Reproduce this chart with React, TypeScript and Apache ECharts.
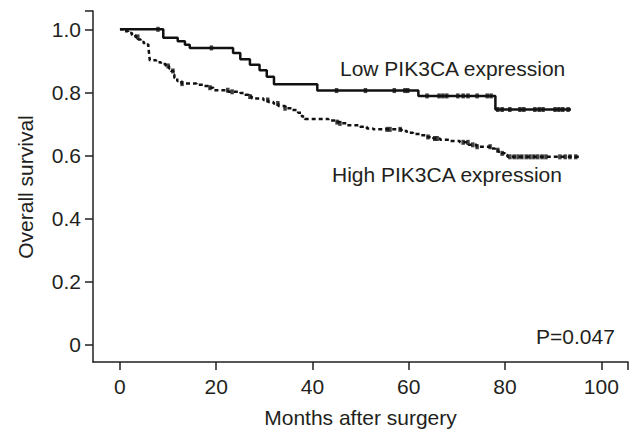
import React, { useEffect, useRef } from "react";
import * as echarts from "echarts";

// Low PIK3CA expression (solid) — Kaplan–Meier step points
const lowTimes = [0, 9, 12, 13.5, 14.5, 23.5, 25, 27, 29, 30.5, 32, 41, 62, 78];
const lowSurv = [1.0, 0.973, 0.962, 0.951, 0.941, 0.925, 0.905, 0.888, 0.87, 0.85, 0.826, 0.806, 0.789, 0.746];
const lowEnd = 93.7;
const lowCensor = [7.9, 19, 45, 51, 57, 59.2, 59.8, 63.8, 66.3, 67.1, 67.9, 70.2, 71.3, 72.3, 74.2, 76.3, 77.1, 78.5, 79.4, 81.0, 83.1, 83.9, 86.2, 87.1, 87.9, 90.4, 91.2, 92.0, 93.1];

// High PIK3CA expression (dashed)
const highTimes = [0, 0.8, 1.7, 2.5, 3.2, 3.8, 4.3, 5.0, 5.9, 6.0, 6.1, 6.2, 7.5, 8.5, 9.5, 10.2, 10.6, 11.1, 11.3, 11.9, 12.8, 15.9, 17.3, 18.7, 19.4, 22.5, 25.0, 26.0, 26.7, 27.4, 29.8, 30.8, 31.9, 32.9, 34.3, 35.7, 37.0, 37.8, 38.4, 43.3, 44.7, 45.7, 47.1, 49.9, 51.3, 52.6, 58.5, 59.6, 60.9, 62.3, 63.7, 65.1, 66.5, 68.6, 70.6, 72.4, 74.1, 77.2, 77.9, 78.6, 79.3, 80.0, 80.5];
const highSurv = [1.0, 0.994, 0.988, 0.982, 0.976, 0.968, 0.96, 0.952, 0.944, 0.93, 0.916, 0.902, 0.896, 0.89, 0.884, 0.876, 0.868, 0.857, 0.846, 0.836, 0.828, 0.824, 0.82, 0.815, 0.807, 0.802, 0.798, 0.793, 0.787, 0.781, 0.776, 0.77, 0.765, 0.757, 0.75, 0.744, 0.736, 0.724, 0.716, 0.711, 0.706, 0.702, 0.696, 0.691, 0.686, 0.683, 0.678, 0.672, 0.668, 0.664, 0.659, 0.654, 0.65, 0.646, 0.642, 0.634, 0.628, 0.622, 0.617, 0.612, 0.607, 0.602, 0.596];
const highEnd = 95.6;
const highCensor = [3.7, 10.0, 11.0, 12.9, 18.7, 22.4, 23.3, 27.0, 30.7, 32.8, 34.3, 45.1, 45.7, 55.5, 56.1, 58.2, 64.0, 65.4, 65.9, 71.3, 72.3, 73.3, 74.2, 76.9, 78.5, 79.4, 81.0, 81.9, 82.7, 83.5, 84.4, 85.2, 86.0, 86.8, 87.7, 88.5, 91.4, 92.5, 93.5, 94.7];

const xTicks = [0, 20, 40, 60, 80, 100];
const yTicks = [0, 0.2, 0.4, 0.6, 0.8, 1.0];

const xMin = -5.6;
const xMax = 105.55;
const yMin = -0.054;
const yMax = 1.058;

function stepData(times: number[], surv: number[], end: number) {
  const d = times.map((t, i) => [t, surv[i]]);
  d.push([end, surv[surv.length - 1]]);
  return d;
}

function survAt(times: number[], surv: number[], t: number) {
  let s = surv[0];
  for (let i = 0; i < times.length; i++) if (times[i] <= t) s = surv[i];
  return s;
}

export default function App() {
  const ref = useRef<HTMLDivElement>(null);
  useEffect(() => {
    const chart = echarts.init(ref.current!, null, { renderer: "svg" });
    const font = "'Liberation Sans', Arial, Helvetica, sans-serif";
    const ink = "#231f20";
    const fs = 21;
    chart.setOption({
      animation: false,
      backgroundColor: "#ffffff",
      grid: { left: 93, right: 1, top: 11, bottom: 67, containLabel: false },
      xAxis: {
        type: "value",
        min: xMin,
        max: xMax,
        splitLine: { show: false },
        axisLine: { show: true, onZero: false, lineStyle: { color: ink, width: 1.5 } },
        axisTick: { show: true, length: 8, inside: false, customValues: [...xTicks, xMax], lineStyle: { color: ink, width: 1.5 } },
        axisLabel: { show: true, customValues: xTicks, margin: 14, color: ink, fontSize: fs, fontFamily: font, formatter: (v: number) => String(Math.round(v)) },
      },
      yAxis: {
        type: "value",
        min: yMin,
        max: yMax,
        splitLine: { show: false },
        axisLine: { show: true, onZero: false, lineStyle: { color: ink, width: 1.5 } },
        axisTick: { show: true, length: 8, inside: false, customValues: [...yTicks, yMax], lineStyle: { color: ink, width: 1.5 } },
        axisLabel: { show: true, customValues: yTicks, margin: 12, color: ink, fontSize: fs, fontFamily: font, formatter: (v: number) => (Math.abs(v) < 1e-9 ? "0" : v.toFixed(1)) },
      },
      series: [
        {
          type: "line",
          step: "end",
          showSymbol: false,
          data: stepData(lowTimes, lowSurv, lowEnd),
          lineStyle: { color: "#111", width: 2.5, type: "solid" },
          z: 3,
        },
        {
          type: "line",
          step: "end",
          showSymbol: false,
          data: stepData(highTimes, highSurv, highEnd),
          lineStyle: { color: "#111", width: 2.5, type: [4, 3] },
          z: 3,
        },
        {
          type: "scatter",
          symbol: "rect",
          symbolSize: [3.5, 5],
          itemStyle: { color: "#111" },
          data: lowCensor.map((t) => [t, survAt(lowTimes, lowSurv, t)]),
          z: 4,
        },
        {
          type: "scatter",
          symbol: "rect",
          symbolSize: [3.5, 5],
          itemStyle: { color: "#111" },
          data: highCensor.map((t) => [t, survAt(highTimes, highSurv, t)]),
          z: 4,
        },
      ],
      graphic: [
        { type: "text", x: 340, y: 68, style: { text: "Low PIK3CA expression", fill: ink, font: `${fs}px ${font}`, textAlign: "left", textVerticalAlign: "middle" } },
        { type: "text", x: 332, y: 174, style: { text: "High PIK3CA expression", fill: ink, font: `${fs}px ${font}`, textAlign: "left", textVerticalAlign: "middle" } },
        { type: "text", x: 536, y: 336, style: { text: "P=0.047", fill: ink, font: `${fs}px ${font}`, textAlign: "left", textVerticalAlign: "middle" } },
        { type: "text", x: 360.5, y: 417, style: { text: "Months after surgery", fill: ink, font: `${fs}px ${font}`, textAlign: "center", textVerticalAlign: "middle" } },
        { type: "text", x: 25, y: 187, rotation: Math.PI / 2, style: { text: "Overall survival", fill: ink, font: `${fs}px ${font}`, textAlign: "center", textVerticalAlign: "middle" } },
      ],
    });
    return () => chart.dispose();
  }, []);
  return <div ref={ref} style={{ position: "absolute", left: 0, top: 0, width: 629, height: 429 }} />;
}
